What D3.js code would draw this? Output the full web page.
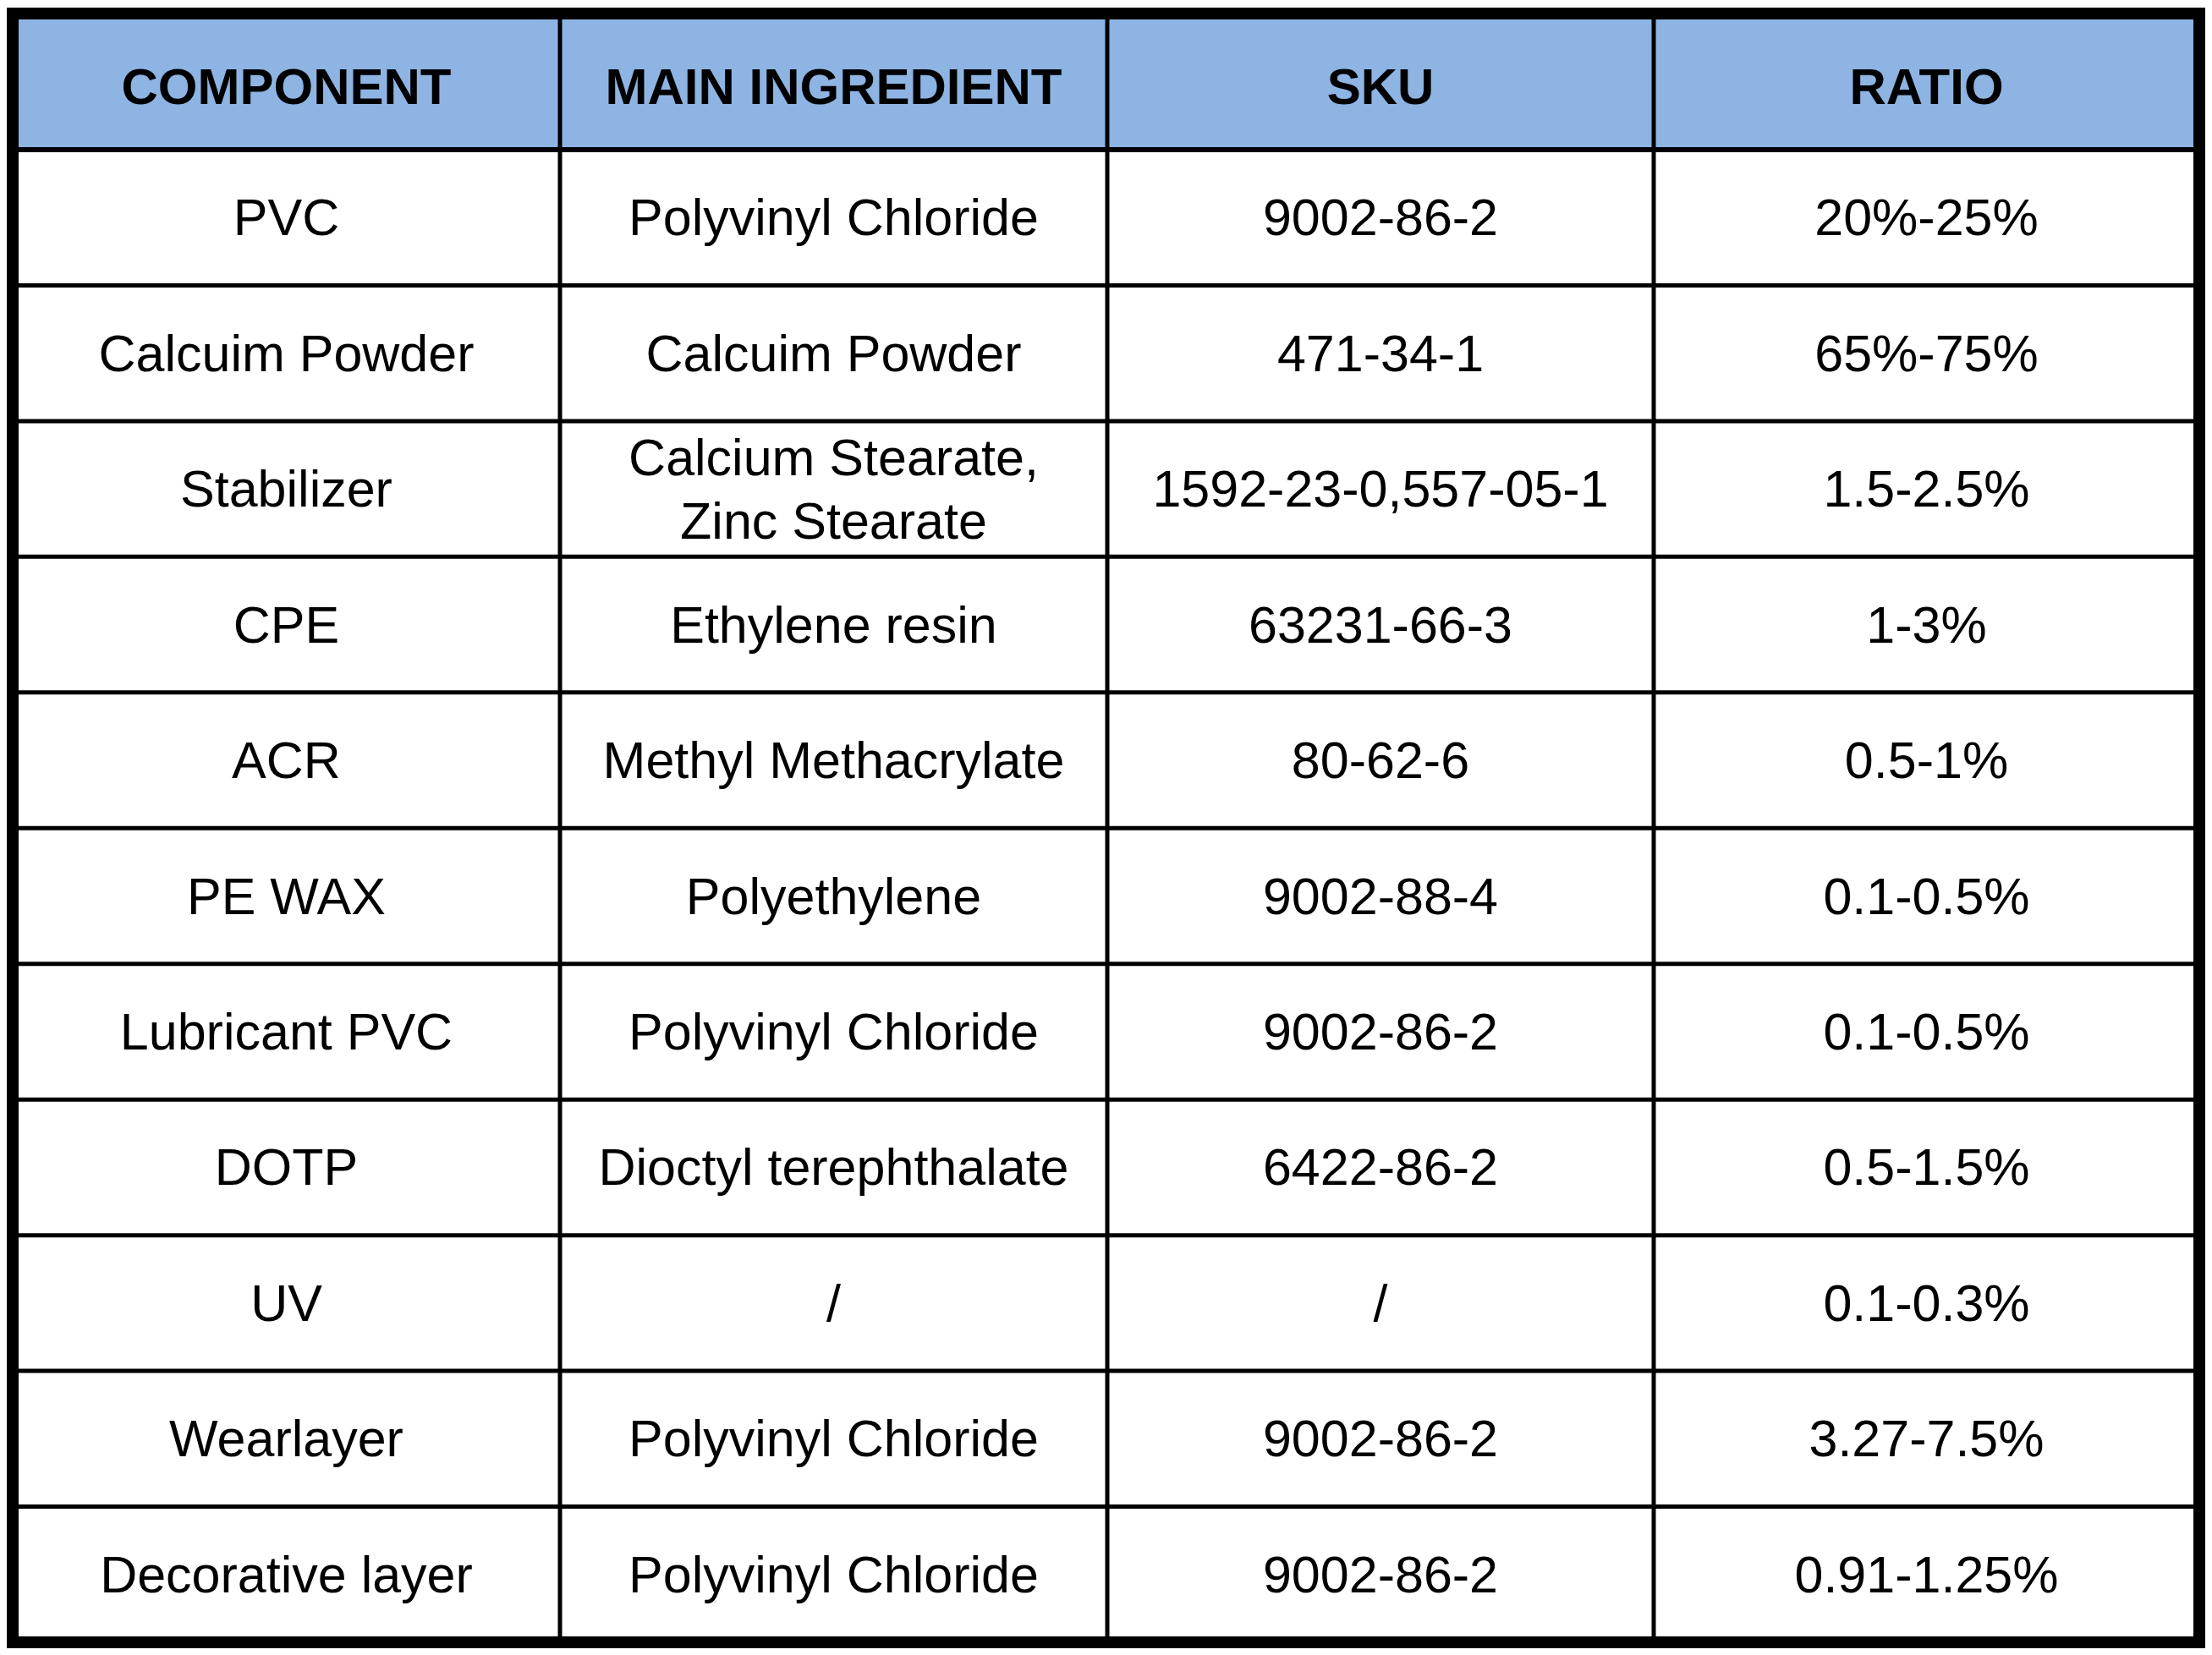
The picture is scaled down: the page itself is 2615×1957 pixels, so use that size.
<!DOCTYPE html>
<html><head><meta charset="utf-8">
<script src="https://cdn.jsdelivr.net/npm/d3@7"></script>
<style>body{margin:0;background:#fff}</style></head>
<body><script>
const headers = ["COMPONENT","MAIN INGREDIENT","SKU","RATIO"];
const components = ["PVC","Calcuim Powder","Stabilizer","CPE","ACR","PE WAX","Lubricant PVC","DOTP","UV","Wearlayer","Decorative layer"];
const ingredients = ["Polyvinyl Chloride","Calcuim Powder","Calcium Stearate,\nZinc Stearate","Ethylene resin","Methyl Methacrylate","Polyethylene","Polyvinyl Chloride","Dioctyl terephthalate","/","Polyvinyl Chloride","Polyvinyl Chloride"];
const skus = ["9002-86-2","471-34-1","1592-23-0,557-05-1","63231-66-3","80-62-6","9002-88-4","9002-86-2","6422-86-2","/","9002-86-2","9002-86-2"];
const ratios = ["20%-25%","65%-75%","1.5-2.5%","1-3%","0.5-1%","0.1-0.5%","0.1-0.5%","0.5-1.5%","0.1-0.3%","3.27-7.5%","0.91-1.25%"];

const W=2615,H=1957;
const L=15,R=2600,T=16,B=1942,HB=177;
const colX=[L,662,1309,1955,R];
const svg=d3.select("body").append("svg").attr("width",W).attr("height",H);
const y=d3.scaleBand().domain(d3.range(components.length)).range([HB,B]);
const font="Liberation Sans, Arial, sans-serif";

svg.append("rect").attr("x",L).attr("y",T).attr("width",R-L).attr("height",HB-T).attr("fill","#8EB4E3");
headers.forEach((h,i)=>{
  svg.append("text").attr("x",(colX[i]+colX[i+1])/2).attr("y",(T+HB)/2+6)
   .attr("text-anchor","middle").attr("dominant-baseline","central")
   .attr("font-family",font).attr("font-weight","bold").attr("font-size",60).attr("fill","#000").text(h);
});
const cols=[components,ingredients,skus,ratios];
cols.forEach((arr,ci)=>{
  arr.forEach((v,ri)=>{
    const cx=(colX[ci]+colX[ci+1])/2, cy=y(ri)+y.bandwidth()/2;
    const lines=v.split("\n");
    lines.forEach((ln,k)=>{
      svg.append("text").attr("x",cx).attr("y",cy+(k-(lines.length-1)/2)*75)
       .attr("text-anchor","middle").attr("dominant-baseline","central")
       .attr("font-family",font).attr("font-size",61).attr("fill","#000").text(ln);
    });
  });
});
// grid lines
svg.append("line").attr("x1",L).attr("x2",R).attr("y1",HB).attr("y2",HB).attr("stroke","#000").attr("stroke-width",6);
d3.range(1,components.length).forEach(i=>{
  svg.append("line").attr("x1",L).attr("x2",R).attr("y1",y(i)).attr("y2",y(i)).attr("stroke","#000").attr("stroke-width",5);
});
colX.slice(1,4).forEach(x=>{
  svg.append("line").attr("x1",x).attr("x2",x).attr("y1",T).attr("y2",B).attr("stroke","#000").attr("stroke-width",5);
});
svg.append("rect").attr("x",L).attr("y",T).attr("width",R-L).attr("height",B-T)
  .attr("fill","none").attr("stroke","#000").attr("stroke-width",14);
</script></body></html>
